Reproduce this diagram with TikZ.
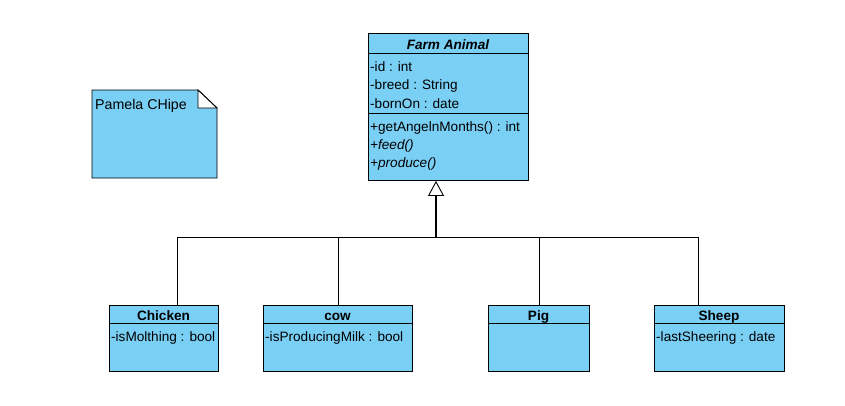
\documentclass[tikz,border=0pt]{standalone}
\usepackage{fontspec}
\setmainfont{Liberation Sans}
\usetikzlibrary{arrows.meta}
\definecolor{umlblue}{RGB}{122,207,245}
\tikzset{
	classbox/.style={draw=black, fill=umlblue, line width=0.9pt, inner sep=0pt, anchor=north west},
	classtitle/.style={inner sep=0pt, anchor=base, font=\fontsize{13.6}{16}\selectfont\bfseries},
	member/.style={inner sep=0pt, anchor=base west, font=\fontsize{13.6}{16}\selectfont},
	genline/.style={draw=black, line width=0.9pt},
}
\begin{document}
\begin{tikzpicture}[x=1pt, y=-1pt]
		%%%%% START %%%%%
		\useasboundingbox[fill=white] (0, 0) rectangle (845, 405);
		
		% note
		\draw[classbox] (92, 90) -- (198, 90) -- (217, 108) -- (217, 178) -- (92, 178) -- cycle;
		\draw[line width=0.9pt, fill=white] (198, 90) -- (217, 108) -- (198, 108) -- cycle;
		\node[member, font=\fontsize{14.2}{16}\selectfont] (note) at (95, 109) {Pamela CHipe};
		
		% Farm Animal
		\node[classbox, minimum width=160pt, minimum height=147pt] (farm) at (368, 33) {};
		\draw[line width=0.9pt] (368, 53) -- (528, 53);
		\draw[line width=0.9pt] (368, 113) -- (528, 113);
		\node[classtitle, font=\fontsize{13.6}{16}\selectfont\bfseries\itshape] (farmname) at (448, 49) {Farm Animal};
		\node[member] (farmid) at (370, 71) {-id : int};
		\node[member] (farmbreed) at (370, 89.5) {-breed : String};
		\node[member] (farmborn) at (370, 108) {-bornOn : date};
		\node[member] (farmage) at (370, 131) {+getAngelnMonths() : int};
		\node[member] (farmfeed) at (370, 149) {\itshape +feed()};
		\node[member] (farmproduce) at (370, 167) {\itshape +produce()};
		
		% Chicken
		\node[classbox, minimum width=109pt, minimum height=66pt] (chicken) at (109, 305) {};
		\draw[line width=0.9pt] (109, 323) -- (218, 323);
		\node[classtitle] (chickenname) at (163.5, 320) {Chicken};
		\node[member] (chickenmolt) at (111, 341) {-isMolthing : bool};
		
		% cow
		\node[classbox, minimum width=149pt, minimum height=66pt] (cow) at (263, 305) {};
		\draw[line width=0.9pt] (263, 323) -- (412, 323);
		\node[classtitle] (cowname) at (337.5, 320) {cow};
		\node[member] (cowmilk) at (265, 341) {-isProducingMilk : bool};
		
		% Pig
		\node[classbox, minimum width=101pt, minimum height=66pt] (pig) at (488, 305) {};
		\draw[line width=0.9pt] (488, 323) -- (589, 323);
		\node[classtitle] (pigname) at (538.5, 320) {Pig};
		
		% Sheep
		\node[classbox, minimum width=130pt, minimum height=66pt] (sheep) at (654, 305) {};
		\draw[line width=0.9pt] (654, 323) -- (784, 323);
		\node[classtitle] (sheepname) at (719, 320) {Sheep};
		\node[member] (sheepshear) at (656, 341) {-lastSheering : date};
		
		% generalization
		\coordinate (hub) at (436, 237);
		\draw[genline] ([xshift=13.5pt]chicken.north) |- (hub);
		\draw[genline] (cow.north) |- (hub);
		\draw[genline] (pig.north) |- (hub);
		\draw[genline] ([xshift=-21pt]sheep.north) |- (hub);
		\draw[genline, line width=1.6pt, -{Triangle[open, length=15pt, width=16pt, line width=0.9pt]}] (hub) -- (hub |- farm.south);
		
		%%%%% END %%%%%
\end{tikzpicture}
\end{document}
